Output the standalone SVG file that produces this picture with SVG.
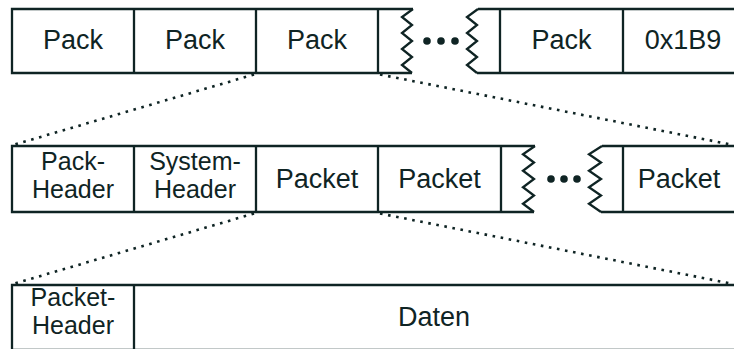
<svg xmlns="http://www.w3.org/2000/svg" width="734" height="349" viewBox="0 0 734 349">
  <style>
    .ln { fill: none; stroke: #0f2424; stroke-width: 2.3; stroke-linejoin: miter; }
    .dot { fill: #0f2424; }
    .dotted { fill: none; stroke: #0f2424; stroke-width: 2.6; stroke-dasharray: 2.6 5.6; }
    text { font-family: "Liberation Sans", Arial, sans-serif; font-size: 27px; fill: #0f2424; text-anchor: middle; }
    text.two { font-size: 25px; }
  </style>

  <!-- Row 1: program stream made of packs -->
  <g id="row1">
    <path class="ln" d="M413,9 H12 V73 H412"/>
    <path class="ln" d="M134,9 V73 M256,9 V73 M378,9 V73"/>
    <path class="ln" d="M413,9 L402,17 L412,25 L402,33 L412,41 L402,49 L412,57 L402,65 L412,73"/>
    <path class="ln" d="M478,9 L467,17 L477,25 L467,33 L477,41 L467,49 L477,57 L467,65 L477,73"/>
    <path class="ln" d="M478,9 H736 M477,73 H736 M500,9 V73 M623,9 V73"/>
    <circle class="dot" cx="427" cy="41" r="3.8"/>
    <circle class="dot" cx="441" cy="41" r="3.8"/>
    <circle class="dot" cx="455" cy="41" r="3.8"/>
  </g>
  <g id="pack1"><text x="73" y="49">Pack</text></g>
  <g id="pack2"><text x="195" y="49">Pack</text></g>
  <g id="pack3"><text x="317" y="49">Pack</text></g>
  <g id="pack4"><text x="561.5" y="49">Pack</text></g>
  <g id="endcode"><text x="683" y="49">0x1B9</text></g>

  <!-- Row 2: contents of one pack -->
  <g id="row2">
    <path class="ln" d="M535,146 H12 V212 H534"/>
    <path class="ln" d="M134,146 V212 M256,146 V212 M378,146 V212 M501,146 V212"/>
    <path class="ln" d="M535,146 L523,154.25 L534,162.5 L523,170.75 L534,179 L523,187.25 L534,195.5 L523,203.75 L534,212"/>
    <path class="ln" d="M602,146 L589,154.25 L601,162.5 L589,170.75 L601,179 L589,187.25 L601,195.5 L589,203.75 L601,212"/>
    <path class="ln" d="M602,146 H736 M601,212 H736 M623,146 V212"/>
    <circle class="dot" cx="551" cy="179" r="3.8"/>
    <circle class="dot" cx="564" cy="179" r="3.8"/>
    <circle class="dot" cx="577" cy="179" r="3.8"/>
  </g>
  <g id="pack-header"><text class="two" x="73" y="170">Pack-</text><text class="two" x="73" y="198">Header</text></g>
  <g id="system-header"><text class="two" x="195" y="170">System-</text><text class="two" x="195" y="198">Header</text></g>
  <g id="packet1"><text x="317" y="188">Packet</text></g>
  <g id="packet2"><text x="439.5" y="188">Packet</text></g>
  <g id="packet3"><text x="679" y="188">Packet</text></g>

  <!-- Row 3: contents of one packet -->
  <g id="row3">
    <path class="ln" d="M736,285 H12 V350 H736"/>
    <path class="ln" d="M134,285 V350"/>
  </g>
  <g id="packet-header"><text class="two" x="73" y="306">Packet-</text><text class="two" x="73" y="334">Header</text></g>
  <g id="daten"><text x="434" y="326">Daten</text></g>

  <!-- Dotted expansion lines between rows -->
  <g id="connectors">
    <path class="dotted" d="M254,74.5 L13,145"/>
    <path class="dotted" d="M380,74.5 L733,145"/>
    <path class="dotted" d="M254,213.5 L13,284"/>
    <path class="dotted" d="M380,213.5 L733,284"/>
  </g>
</svg>
